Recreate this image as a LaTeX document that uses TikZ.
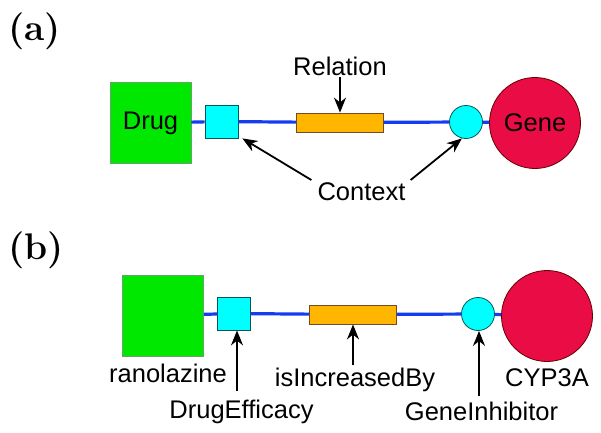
\documentclass[tikz,border=0pt]{standalone}
\usepackage{fontspec}
\setmainfont{Liberation Sans}
\newfontfamily\lmfont{Latin Modern Roman}
\usetikzlibrary{arrows.meta, positioning}
\definecolor{drugGreen}{RGB}{0,232,0}
\definecolor{ctxCyan}{RGB}{0,255,255}
\definecolor{relOrange}{RGB}{255,182,0}
\definecolor{geneRed}{RGB}{234,12,68}
\definecolor{linkBlue}{RGB}{20,60,240}
\tikzstyle{arrow} = [line width=1.8pt,-{Stealth[length=15pt,width=12pt]}]
\tikzstyle{link} = [line width=3.2pt, draw=linkBlue]
\tikzstyle{drugBox} = [rectangle, minimum size=81pt, fill=drugGreen, draw=black!60!green!60, line width=0.8pt, inner sep=0pt]
\tikzstyle{ctxBox} = [rectangle, minimum size=33pt, fill=ctxCyan, draw=teal!70!black, line width=0.8pt, inner sep=0pt]
\tikzstyle{ctxCirc} = [circle, minimum size=33pt, fill=ctxCyan, draw=teal!70!black, line width=0.8pt, inner sep=0pt]
\tikzstyle{relBox} = [rectangle, minimum width=87pt, minimum height=19pt, fill=relOrange, draw=brown!60!black, line width=0.8pt, inner sep=0pt]
\tikzstyle{geneCirc} = [circle, minimum size=91pt, fill=geneRed, draw=red!40!black, line width=0.8pt, inner sep=0pt]
\tikzstyle{lbl} = [anchor=base, inner sep=2pt]
\tikzstyle{panel} = [anchor=base west, inner sep=0pt, font=\lmfont\fontsize{37}{40}\selectfont\bfseries]

\begin{document}
\begin{tikzpicture}[x=1pt, y=-1pt, font=\fontsize{25.5}{30}\selectfont]
		\useasboundingbox (0,0) rectangle (601,432);
		% (a)
		\node (pa) [panel] at (8,40) {(a)};
		\node (drugA) [drugBox] at (150.5,123) {Drug};
		\node (ctxA) [ctxBox] at (221.5,121.5) {};
		\node (relA) [relBox] at (340,122.5) {};
		\node (ctxB) [ctxCirc] at (466,122) {};
		\node (geneA) [geneCirc] at (535,123) {Gene};
		\node (rel) [lbl] at (340,75) {Relation};
		\node (ctx) [lbl] at (361.5,200) {Context};
		\draw [link] (drugA) -- (ctxA);
		\draw [link] (ctxA) -- (relA);
		\draw [link] (relA) -- (ctxB);
		\draw [link] (ctxB) -- (geneA);
		\draw [arrow] (rel) -- (relA);
		\draw [arrow] ([xshift=-4pt]ctx.north west) -- ([xshift=4pt]ctxA.south east);
		\draw [arrow] ([xshift=3pt]ctx.north east) -- (ctxB.-104);
		% (b)
		\node (pb) [panel] at (8,259) {(b)};
		\node (drugB) [drugBox] at (163,315.5) {};
		\node (effB) [ctxBox] at (234,313.5) {};
		\node (relB) [relBox] at (353,314.5) {};
		\node (inhB) [ctxCirc] at (478,314) {};
		\node (geneB) [geneCirc] at (547,316) {};
		\node (drugName) [lbl] at (168,382) {ranolazine};
		\node (effName) [lbl] at (241.5,418) {DrugEfficacy};
		\node (relName) [lbl] at (355,386) {isIncreasedBy};
		\node (inhName) [lbl] at (481.5,420) {GeneInhibitor};
		\node (geneName) [lbl] at (547,386) {CYP3A};
		\draw [link] (drugB) -- (effB);
		\draw [link] (effB) -- (relB);
		\draw [link] (relB) -- (inhB);
		\draw [link] (inhB) -- (geneB);
		\draw [arrow] ([xshift=3pt,yshift=6pt]effB.south |- effName.north) -- ([xshift=3pt]effB.south);
		\draw [arrow] (relB.south |- relName.north) -- (relB.south);
		\draw [arrow] ([xshift=1pt,yshift=3pt]inhB.south |- inhName.north) -- ([xshift=1pt]inhB.south);
	\end{tikzpicture}
\end{document}
